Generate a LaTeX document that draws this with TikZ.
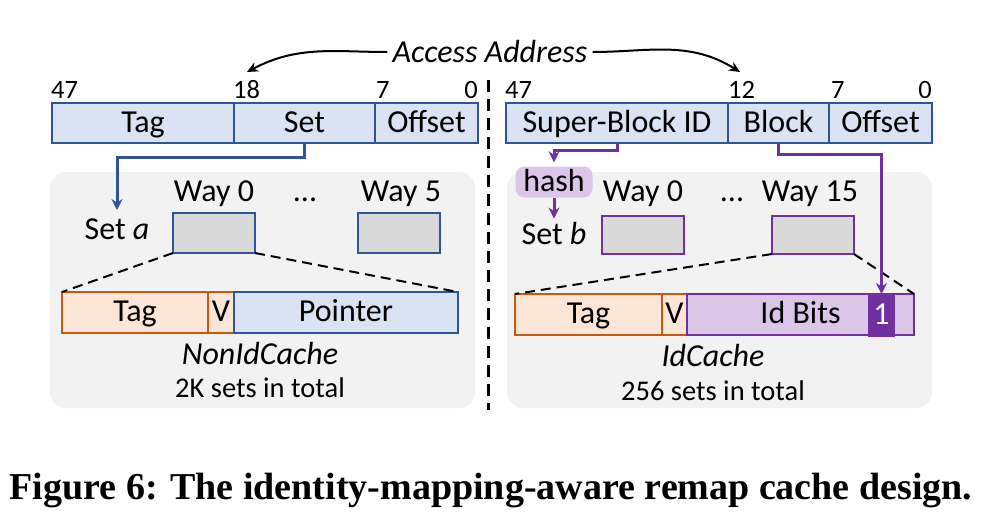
\documentclass[tikz,border=0pt]{standalone}
\usepackage{fontspec}
\setmainfont{Carlito}
\newfontfamily\capfont{Liberation Serif}
\usetikzlibrary{positioning,arrows.meta}
\definecolor{fieldblue}{HTML}{DAE3F3}
\definecolor{lineblue}{HTML}{2F5597}
\definecolor{tagorange}{HTML}{FBE5D6}
\definecolor{lineorange}{HTML}{C55A11}
\definecolor{idpurple}{HTML}{DCC6E8}
\definecolor{linepurple}{HTML}{7030A0}
\definecolor{wayfill}{HTML}{D9D9D9}
\definecolor{panelgray}{HTML}{F2F2F2}
\tikzset{
  txt/.style={font=\fontsize{32}{36}\selectfont, inner sep=0pt},
  boxtxt/.style={txt, text height=22pt, text depth=4pt},
  bitnum/.style={font=\fontsize{26.5}{30}\selectfont, inner sep=0pt},
  field/.style={boxtxt, draw=lineblue, fill=fieldblue, line width=2pt,
    minimum height=40pt, outer sep=0pt},
  entrytag/.style={field, draw=lineorange, fill=tagorange, minimum height=41pt},
  idfield/.style={field, draw=linepurple, fill=idpurple, minimum height=41pt},
  waybox/.style={draw, fill=wayfill, line width=2.6pt, minimum width=82pt,
    minimum height=40pt, outer sep=0pt},
  blueflow/.style={draw=lineblue, line width=3pt, -{Stealth[length=11pt,width=11pt]}},
  purpleflow/.style={draw=linepurple, line width=3pt, -{Stealth[length=11pt,width=11pt]}},
  zoomline/.style={dashed, dash pattern=on 10pt off 6pt, line width=2pt},
}
\begin{document}
\begin{tikzpicture}[x=1pt, y=-1pt]
\useasboundingbox (0,0) rectangle (994,520);
% the two cache panels
\fill[panelgray, rounded corners=16pt] (50,172) rectangle (475,408);
\fill[panelgray, rounded corners=16pt] (507,172) rectangle (932,408);
\draw[line width=3pt, dash pattern=on 12pt off 7pt] (488,80) -- (488,410);

% access address
\node[txt, font=\fontsize{32}{36}\selectfont\itshape] (addr) at (490,52) {Access Address};
\coordinate (tipL) at (247,72);
\coordinate (tipR) at (740,72);
\draw[line width=2pt, shorten <=5pt, -{Stealth[length=11pt,width=10pt]}] (addr.west) to[out=180, in=28] (tipL);
\draw[line width=2pt, shorten <=5pt, -{Stealth[length=11pt,width=10pt]}] (addr.east) to[out=0, in=148] (tipR);

% left address fields
\node[field, minimum width=182pt, anchor=north west] (lTag) at (52,103) {Tag};
\node[field, minimum width=141pt, right=0pt of lTag] (lSet) {Set};
\node[field, minimum width=103pt, right=0pt of lSet] (lOff) {Offset};
\node[bitnum, anchor=base west] (l47) at (51,98) {47};
\node[bitnum, anchor=base west] (l18) at (233,98) {18};
\node[bitnum, anchor=base west] (l7) at (376,98) {7};
\node[bitnum, anchor=base east] (l0) at (478,98) {0};

% right address fields
\node[field, minimum width=222pt, anchor=north west] (rSB) at (506,103) {Super-Block ID};
\node[field, minimum width=101pt, right=0pt of rSB] (rBlock) {Block};
\node[field, minimum width=103pt, right=0pt of rBlock] (rOff) {Offset};
\node[bitnum, anchor=base west] (r47) at (505,98) {47};
\node[bitnum, anchor=base west] (r12) at (728,98) {12};
\node[bitnum, anchor=base west] (r7) at (831,98) {7};
\node[bitnum, anchor=base east] (r0) at (932,98) {0};

% NonIdCache
\node[txt, anchor=base] (lW0) at (214,201) {Way 0};
\node[txt, anchor=base] (lDots) at (305,201) {...};
\node[txt, anchor=base] (lW5) at (401,201) {Way 5};
\node[txt, anchor=base] (setA) at (117,239) {Set \textit{a}};
\node[waybox, draw=lineblue, anchor=north west] (lWay0) at (173,213) {};
\node[waybox, draw=lineblue, anchor=north west] (lWay5) at (358,213) {};
\node[entrytag, minimum width=146pt, anchor=north west] (lETag) at (62,292) {Tag};
\node[entrytag, minimum width=26pt, right=0pt of lETag] (lEV) {V};
\node[field, minimum width=224pt, minimum height=41pt, right=0pt of lEV] (lEPtr) {Pointer};
\node[txt, anchor=base, font=\fontsize{32}{36}\selectfont\itshape] (lName) at (260,364) {NonIdCache};
\node[txt, anchor=base, font=\fontsize{28.5}{32}\selectfont] (lSets) at (260,397) {2K sets in total};
\draw[zoomline] (lWay0.south west) -- (lETag.north west);
\draw[zoomline] (lWay0.south east) -- (lEPtr.north east);
\draw[blueflow] (lSet.south) -- ++(0,14) -| ([yshift=8pt]setA.north);

% IdCache
\node[boxtxt, fill=idpurple, rounded corners=9pt, minimum width=77pt, minimum height=31pt] (hash) at (554,182) {hash};
\node[txt, anchor=base] (rW0) at (643,201) {Way 0};
\node[txt, anchor=base] (rDots) at (732,201) {...};
\node[txt, anchor=base] (rW15) at (810,201) {Way 15};
\node[txt, anchor=base] (setB) at (554,244) {Set \textit{b}};
\node[waybox, draw=linepurple, minimum height=38pt, anchor=north west] (rWay0) at (602,216) {};
\node[waybox, draw=linepurple, minimum height=38pt, anchor=north west] (rWay15) at (772,216) {};
\node[entrytag, minimum width=147pt, anchor=north west] (rETag) at (515,294) {Tag};
\node[entrytag, minimum width=25pt, right=0pt of rETag] (rEV) {V};
\node[idfield, minimum width=227pt, right=0pt of rEV] (rEId) {Id Bits};
\node[boxtxt, draw=linepurple, fill=linepurple, text=white, line width=2pt, minimum width=25pt, minimum height=41pt, anchor=north west] (rOne) at (868,294) {1};
\node[txt, anchor=base, font=\fontsize{32}{36}\selectfont\itshape] (rName) at (713,366) {IdCache};
\node[txt, anchor=base, font=\fontsize{28.5}{32}\selectfont] (rSets) at (713,400) {256 sets in total};
\draw[zoomline] (rWay15.south west) -- (rETag.north west);
\draw[zoomline] (rWay15.south east) -- (rEId.north east);
\draw[purpleflow, shorten >=4pt] (rSB.south) -- ++(0,7) -| (hash.north);
\draw[purpleflow] (hash.south) -- ([yshift=3pt]setB.north);
\draw[purpleflow] (rBlock.south) -- ++(0,11) -| (rOne.north);

% caption
\node[inner sep=0pt, anchor=base, font=\capfont\bfseries\fontsize{38}{42}\selectfont] (caption) at (491,499) {Figure 6: The identity-mapping-aware remap cache design.};
\end{tikzpicture}
\end{document}
